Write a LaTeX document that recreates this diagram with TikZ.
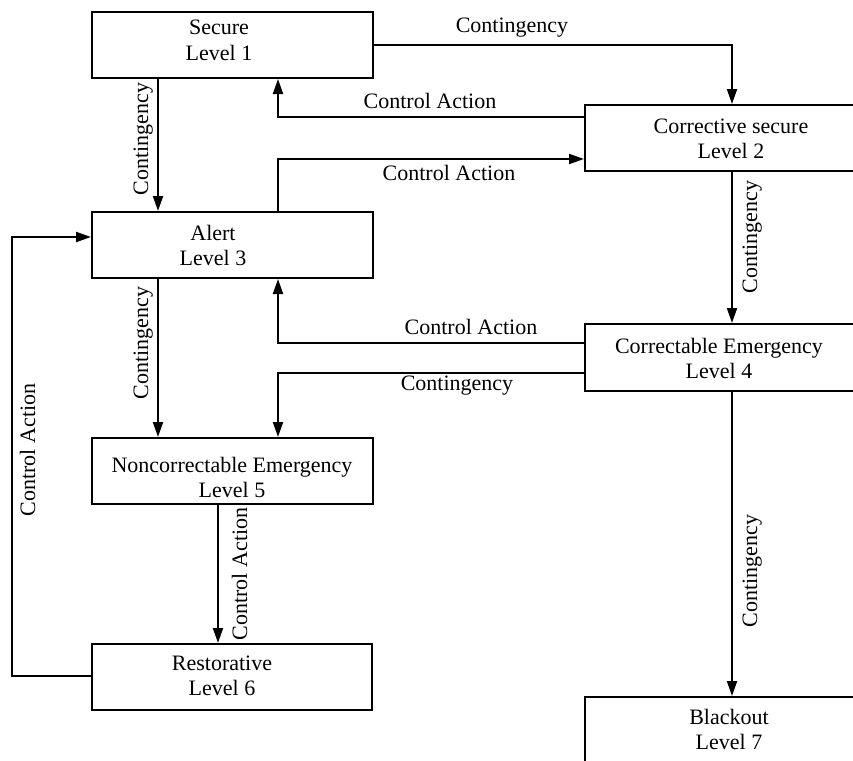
\documentclass[tikz,border=0pt]{standalone}
\usepackage{fontspec}
\setmainfont{Liberation Serif}
\usetikzlibrary{arrows.meta}

% two centred lines whose reference point is the first baseline
\newcommand{\stateText}[2]{\begin{tabular}[t]{@{}c@{}}#1\\#2\end{tabular}}

\begin{document}
\begin{tikzpicture}[x=1pt, y=-1pt,
  every node/.style={font=\fontsize{22}{25.5}\selectfont},
  statebox/.style={draw, line width=2pt, inner sep=0pt, anchor=north west},
  txt/.style={inner sep=0pt, anchor=base},
  lbl/.style={inner sep=0pt, anchor=base},
  flow/.style={line width=2pt, -{Triangle[width=10pt,length=15pt]}}]

\useasboundingbox (0,0) rectangle (853,760);
\clip (0,0) rectangle (853,760);

% state boxes
\node[statebox, minimum width=281pt, minimum height=66pt] (s1) at (91,11) {};
\node[statebox, minimum width=294pt, minimum height=66pt] (s2) at (584,104) {};
\node[statebox, minimum width=281pt, minimum height=66pt] (s3) at (91,211) {};
\node[statebox, minimum width=294pt, minimum height=67pt] (s4) at (584,323) {};
\node[statebox, minimum width=281pt, minimum height=66pt] (s5) at (91,437) {};
\node[statebox, minimum width=280pt, minimum height=66pt] (s6) at (91,643) {};
\node[statebox, minimum width=294pt, minimum height=90pt] (s7) at (584,696) {};

% state names
\node[txt] (t1) at (219,35)  {\stateText{Secure}{Level 1}};
\node[txt] (t2) at (731,133) {\stateText{Corrective secure}{Level 2}};
\node[txt] (t3) at (213,240) {\stateText{Alert}{Level 3}};
\node[txt] (t4) at (719,353) {\stateText{Correctable Emergency}{Level 4}};
\node[txt] (t5) at (232,472) {\stateText{Noncorrectable Emergency}{Level 5}};
\node[txt] (t6) at (222,670) {\stateText{Restorative}{Level 6}};
\node[txt] (t7) at (729,724) {\stateText{Blackout}{Level 7}};

% transitions
\draw[flow] (s1.east) -| (s2.north);
\draw[flow] ([yshift=-13pt]s2.north west) -| ([xshift=187pt]s1.south west);
\draw[flow] ([xshift=67pt]s1.south west) -- ([xshift=67pt]s3.north west);
\draw[flow] ([xshift=187pt]s3.north west) |- ([yshift=13pt]s2.south west);
\draw[flow] (s2.south) -- (s4.north);
\draw[flow] ([xshift=67pt]s3.south west) -- ([xshift=67pt]s5.north west);
\draw[flow] ([yshift=-20pt]s4.north west) -| ([xshift=187pt]s3.south west);
\draw[flow] ([yshift=19pt]s4.south west) -| ([xshift=187pt]s5.north west);
\draw[flow] (s4.south) -- (s7.north);
\draw[flow] ([xshift=127pt]s5.south west) -- ([xshift=127pt]s6.north west);
\draw[flow] ([yshift=-33pt]s6.north west) -- ++(-79pt,0) |- ([yshift=-26pt]s3.north west);

% transition labels
\node[lbl] (c12) at (512,33)  {Contingency};
\node[lbl] (a21) at (430,108) {Control Action};
\node[lbl] (a32) at (449,180) {Control Action};
\node[lbl] (a43) at (471,334) {Control Action};
\node[lbl] (c45) at (457,390) {Contingency};
\node[lbl, rotate=90] (c13) at (148,139) {Contingency};
\node[lbl, rotate=90] (c24) at (757,237) {Contingency};
\node[lbl, rotate=90] (c35) at (148,343) {Contingency};
\node[lbl, rotate=90] (c47) at (757,571) {Contingency};
\node[lbl, rotate=90] (a56) at (247,574) {Control Action};
\node[lbl, rotate=90] (a63) at (35,450)  {Control Action};
\end{tikzpicture}
\end{document}
